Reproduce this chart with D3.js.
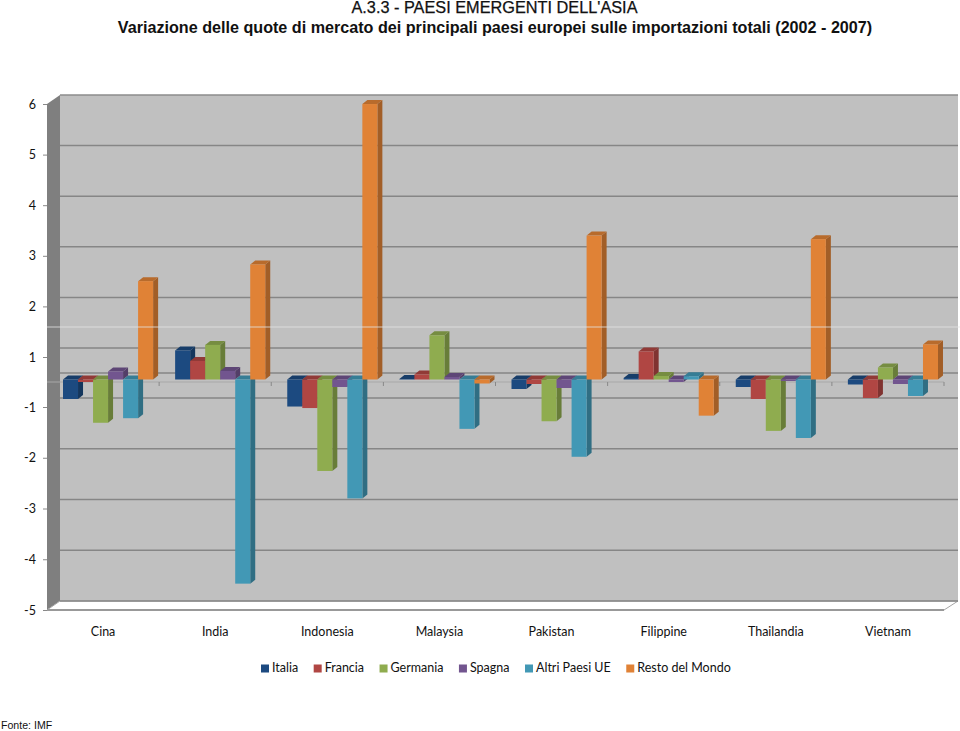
<!DOCTYPE html>
<html>
<head>
<meta charset="utf-8">
<script src="https://d3js.org/d3.v7.min.js"></script>
<style>
body { margin: 0; background: #fff; }
svg { display: block; }
text { font-family: Lato, "Open Sans", sans-serif; fill: #111; }
.tit, .fonte { font-family: "Liberation Sans", Arial, sans-serif; }
</style>
</head>
<body>
<script>
var paesi = ["Cina", "India", "Indonesia", "Malaysia", "Pakistan", "Filippine", "Thailandia", "Vietnam"];
var serie = ["Italia", "Francia", "Germania", "Spagna", "Altri Paesi UE", "Resto del Mondo"];
var colori = ["#1c4a80", "#b04643", "#8fac4f", "#72558f", "#4298b5", "#e08236"];

var italia   = [-0.78, 1.08, -1.04, 0.02, -0.38, 0.06, -0.3, -0.2];
var francia  = [-0.1, 0.74, -1.07, 0.2, -0.18, 1.06, -0.78, -0.74];
var germania = [-1.36, 1.19, -2.31, 1.38, -1.33, 0.14, -1.52, 0.48];
var spagna   = [0.32, 0.34, -0.3, 0.1, -0.34, -0.1, -0.06, -0.18];
var altri    = [-1.27, -4.53, -2.85, -1.48, -2.03, 0.13, -1.66, -0.66];
var resto    = [2.45, 2.78, 5.95, -0.16, 3.35, -1.22, 3.28, 1.2];
var valori = [italia, francia, germania, spagna, altri, resto];

// the source axis has no 0 label and the stretch from 1 to -1 is squeezed
var etichette = [6, 5, 4, 3, 2, 1, -1, -2, -3, -4, -5];
var griglia = [5, 4, 3, 2, 1, 0, -1, -2, -3, -4];

var svg = d3.select("body").append("svg").attr("width", 960).attr("height", 731);

var y = d3.scaleLinear().domain([-5, -1, 1, 6]).range([610, 407, 357, 104]);
var x = d3.scaleBand().domain(paesi).range([47, 944]);
var xs = d3.scaleBand().domain(serie).range([0, x.bandwidth()]).paddingInner(0).paddingOuter(0.733);

var wallDx = 13, wallDy = -9;   // front plane to back wall
var barDx = 5, barDy = -2.5;    // front plane to front of the bars
var depDx = 5, depDy = -4;      // bar depth

// titles
svg.append("text").attr("class", "tit").attr("x", 494.5).attr("y", 13)
  .attr("text-anchor", "middle").style("font-size", "16.3px")
  .style("stroke", "#111").style("stroke-width", 0.25)
  .text("A.3.3 - PAESI EMERGENTI DELL'ASIA");
svg.append("text").attr("class", "tit").attr("x", 495).attr("y", 33)
  .attr("text-anchor", "middle").style("font-size", "16.15px").style("font-weight", "bold")
  .text("Variazione delle quote di mercato dei principali paesi europei sulle importazioni totali (2002 - 2007)");

var x0 = x.range()[0], x1 = x.range()[1];
var top_ = y(6), bot = y(-5);

// walls
svg.append("rect").attr("x", x0 + wallDx).attr("y", top_ + wallDy)
  .attr("width", 958 - x0 - wallDx).attr("height", bot - top_)
  .attr("fill", "#c0c0c0");
svg.append("path")
  .attr("d", d3.line()([[x0, top_], [x0 + wallDx, top_ + wallDy], [x0 + wallDx, bot + wallDy], [x0, bot]]) + "Z")
  .attr("fill", "#7f7f7f");
svg.append("path")
  .attr("d", d3.line()([[x0, bot], [x0 + wallDx, bot + wallDy], [958, bot + wallDy], [x1, bot]]) + "Z")
  .attr("fill", "#fff").attr("stroke", "#a6a6a6").attr("stroke-width", 1);
svg.append("line").attr("x1", x0 + wallDx).attr("x2", 958).attr("y1", top_ + wallDy).attr("y2", top_ + wallDy)
  .attr("stroke", "#8c8c8c").attr("stroke-width", 1.5);
svg.append("line").attr("x1", x0 + wallDx).attr("x2", 958).attr("y1", bot + wallDy).attr("y2", bot + wallDy)
  .attr("stroke", "#868686").attr("stroke-width", 1.5);
svg.append("line").attr("x1", x0).attr("x2", x1).attr("y1", bot).attr("y2", bot)
  .attr("stroke", "#999").attr("stroke-width", 2);

// gridlines
svg.selectAll(".grid").data(griglia).enter().append("line").attr("class", "grid")
  .attr("x1", x0 + wallDx).attr("x2", 958)
  .attr("y1", function(d){ return y(d) + wallDy; })
  .attr("y2", function(d){ return y(d) + wallDy; })
  .attr("stroke", "#868686").attr("stroke-width", 1.5);

// y axis
var gy = svg.append("g").attr("transform", "translate(" + x0 + ",0)")
  .call(d3.axisLeft(y).tickValues(etichette).tickFormat(function(d){ return String(d); }).tickSize(4).tickPadding(8));
gy.select(".domain").remove();
gy.selectAll("line").attr("stroke", "#888");
gy.selectAll("text").style("font-size", "12.5px").style("font-family", "Lato").attr("dx", 1);

// category axis on the zero line
svg.append("line").attr("x1", x0).attr("x2", x1).attr("y1", y(0)).attr("y2", y(0))
  .attr("stroke", "#a8a8a8").attr("stroke-width", 1);
svg.selectAll(".tk").data(paesi).enter().append("line").attr("class", "tk")
  .attr("x1", function(d){ return x(d) + x.bandwidth(); })
  .attr("x2", function(d){ return x(d) + x.bandwidth(); })
  .attr("y1", y(0)).attr("y2", y(0) + 4)
  .attr("stroke", "#888");

// bars
valori.forEach(function(vals, s){
  var col = colori[s];
  var g = svg.append("g");
  var bars = g.selectAll("g").data(vals).enter().append("g");
  function lato(d, i){ return x(paesi[i]) + xs(serie[s]) + barDx; }
  function alto(d){ return Math.min(y(d), y(0)) + barDy; }
  function basso(d){ return Math.max(y(d), y(0)) + barDy; }
  var w = xs.bandwidth();

  bars.append("path").attr("fill", d3.color(col).darker(0.9))
    .attr("d", function(d, i){
      var l = lato(d, i) + w;
      return d3.line()([[l, alto(d)], [l + depDx, alto(d) + depDy], [l + depDx, basso(d) + depDy], [l, basso(d)]]) + "Z";
    });
  bars.append("path").attr("fill", d3.color(col).darker(0.55))
    .attr("d", function(d, i){
      var l = lato(d, i);
      return d3.line()([[l, alto(d)], [l + depDx, alto(d) + depDy], [l + w + depDx, alto(d) + depDy], [l + w, alto(d)]]) + "Z";
    });
  bars.append("rect").attr("fill", col)
    .attr("x", lato).attr("y", alto).attr("width", w)
    .attr("height", function(d){ return basso(d) - alto(d); });
});

// stray light line in the source picture
svg.append("line").attr("x1", x0).attr("x2", 960).attr("y1", 327).attr("y2", 327)
  .attr("stroke", "#e4e4e4").attr("stroke-width", 1).attr("stroke-opacity", 0.8);

// category labels
svg.selectAll(".cat").data(paesi).enter().append("text").attr("class", "cat")
  .attr("x", function(d){ return x(d) + x.bandwidth() / 2; })
  .attr("y", 636).attr("text-anchor", "middle").style("font-size", "12.5px")
  .text(function(d){ return d; });

// legend, laid out from the text widths
var cursor = 261;
serie.forEach(function(s, i){
  var g = svg.append("g");
  g.append("rect").attr("x", cursor).attr("y", 664.5).attr("width", 8).attr("height", 8).attr("fill", colori[i]);
  var t = g.append("text").attr("x", cursor + 11).attr("y", 672).style("font-size", "12.5px").text(s);
  cursor += 11 + t.node().getComputedTextLength() + 15.5;
});

svg.append("text").attr("class", "fonte").attr("x", 1).attr("y", 729).style("font-size", "10.6px").text("Fonte: IMF");
</script>
</body>
</html>
